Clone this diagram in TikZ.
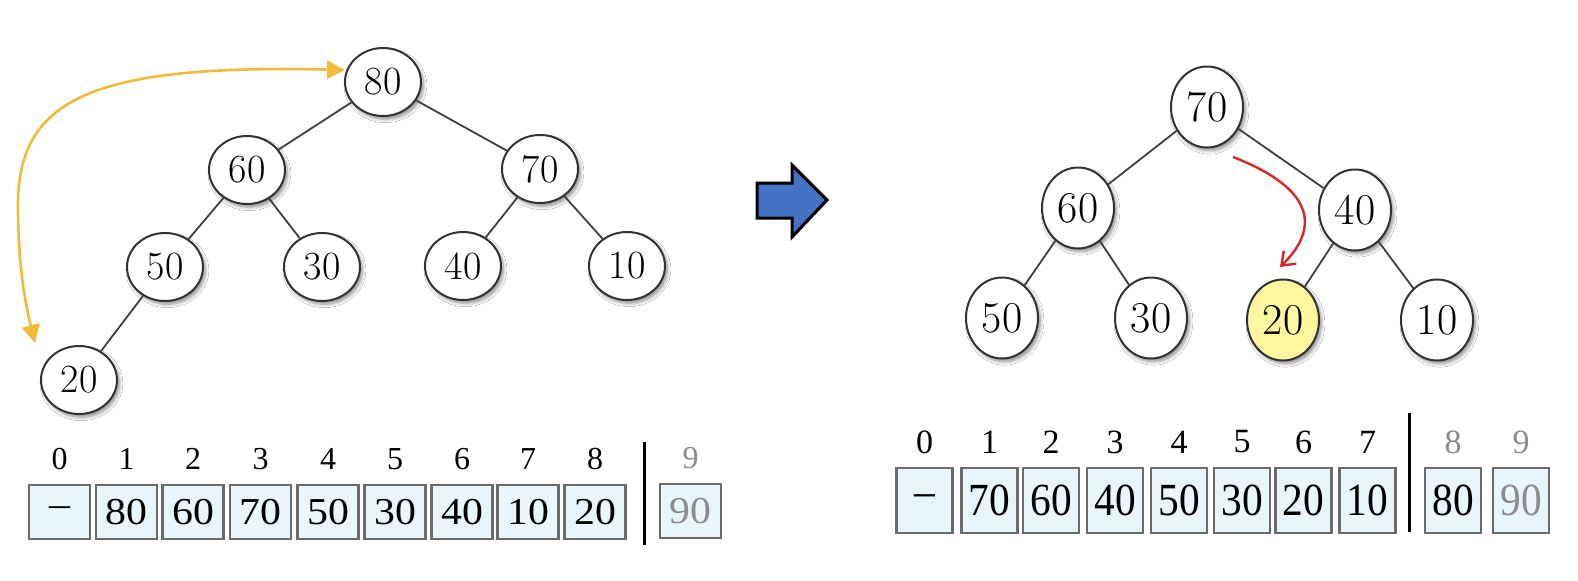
\documentclass[tikz,border=0pt]{standalone}
\usepackage{fontspec}
\newfontfamily\tms{Liberation Serif}
\newfontfamily\tmsw[FakeStretch=1.1]{Liberation Serif}
\newfontfamily\tmsn[FakeStretch=0.9]{Liberation Serif}
\usetikzlibrary{shapes.geometric,arrows.meta,shadows.blur}
\definecolor{boxfill}{RGB}{232,246,251}
\definecolor{arrowblue}{RGB}{68,114,196}
\definecolor{yarr}{RGB}{240,187,56}
\definecolor{rarr}{RGB}{214,38,38}
\definecolor{hlyellow}{RGB}{255,246,160}
\begin{document}
\begin{tikzpicture}[x=0.5pt,y=-0.5pt,
  tnode/.style={ellipse, draw=black!80, line width=1pt, fill=white, inner sep=0pt,
    blur shadow={shadow xshift=1.2pt,shadow yshift=-1.6pt,shadow blur steps=6,shadow opacity=45}},
  lnode/.style={tnode, minimum width=38pt, minimum height=34pt, font=\fontsize{20}{20}\selectfont},
  rnode/.style={tnode, minimum width=36pt, minimum height=40.5pt, font=\fontsize{22}{22}\selectfont},
  edge/.style={draw=black!75, line width=0.9pt},
  abox/.style={rectangle, draw=black!58, line width=1.3pt, fill=boxfill, inner sep=0pt},
  lbox/.style={abox, minimum width=30.5pt, minimum height=27pt, font=\tmsw\fontsize{19}{19}\selectfont},
  rbox/.style={abox, minimum width=28pt, minimum height=32.5pt, font=\tmsn\fontsize{23}{23}\selectfont},
  lidx/.style={inner sep=0pt, font=\tms\fontsize{16}{16}\selectfont},
  ridx/.style={inner sep=0pt, font=\tms\fontsize{17}{17}\selectfont},
  faded/.style={text=black!45},
  sepline/.style={draw=black, line width=1.5pt}
]
\useasboundingbox (0,0) rectangle (1578,580);
\fill[white] (0,0) rectangle (1578,580);

% ---------- left tree ----------
\node[lnode] (L80) at (383,82) {80};
\node[lnode] (L60) at (247,170) {60};
\node[lnode] (L70) at (540,169) {70};
\node[lnode] (L50) at (165,267) {50};
\node[lnode] (L30) at (322,267) {30};
\node[lnode] (L40) at (463,266) {40};
\node[lnode] (L10) at (627,266) {10};
\node[lnode] (L20) at (79,380) {20};
\draw[edge] (L80) -- (L60);
\draw[edge] (L80) -- (L70);
\draw[edge] (L60) -- (L50);
\draw[edge] (L60) -- (L30);
\draw[edge] (L50) -- (L20);
\draw[edge] (L70) -- (L40);
\draw[edge] (L70) -- (L10);

% yellow swap arrow
\coordinate (ya) at (35,343);
\coordinate (ym) at (18,205);
\coordinate (yb) at (345,70);
\draw[yarr, line width=1.3pt, {Triangle[length=9pt,width=9pt]}-{Triangle[length=9pt,width=9pt]}]
  (ya) .. controls (22,290) and (18,250) .. (ym) .. controls (18,100) and (90,64) .. (yb);

% ---------- left array ----------
\foreach \i/\x/\v in {0/59.5/\textendash,1/126.5/80,2/193/60,3/260.5/70,4/328/50,5/395/30,6/462/40,7/528/10,8/595/20}{
  \node[lbox] (la\i) at (\x,512) {\v};
  \node[lidx] (li\i) at (\x,459) {\i};
}
\node[lbox, faded] (la9) at (690.5,511) {90};
\node[lidx, faded] (li9) at (690.5,458) {9};
\coordinate (ls1) at (644,442);
\coordinate (ls2) at (644,545);
\draw[sepline] (ls1) -- (ls2);

% ---------- big arrow ----------
\draw[fill=arrowblue, draw=black, line width=1.5pt, line join=miter]
  (757,183) -- (792,183) -- (792,165) -- (827,200) -- (792,237) -- (792,218) -- (757,218) -- cycle;

% ---------- right tree ----------
\node[rnode] (R70) at (1207,107) {70};
\node[rnode] (R60) at (1078,208) {60};
\node[rnode] (R40) at (1355,210) {40};
\node[rnode] (R50) at (1002,318) {50};
\node[rnode] (R30) at (1151,318) {30};
\node[rnode, fill=hlyellow] (R20) at (1283,320) {20};
\node[rnode] (R10) at (1437,320) {10};
\draw[edge] (R70) -- (R60);
\draw[edge] (R70) -- (R40);
\draw[edge] (R60) -- (R50);
\draw[edge] (R60) -- (R30);
\draw[edge] (R40) -- (R20);
\draw[edge] (R40) -- (R10);

% red arrow
\coordinate (ra) at (1233,157);
\coordinate (rb) at (1280,267);
\draw[rarr, line width=1.2pt, -{Straight Barb[length=6pt,width=9pt]}]
  (ra) .. controls (1318,190) and (1318,230) .. (rb);

% ---------- right array ----------
\foreach \i/\x/\v in {0/924.5/\textendash,1/989.5/70,2/1051/60,3/1115/40,4/1179/50,5/1242/30,6/1303.5/20,7/1367.5/10,8/1453/80}{
  \node[rbox] (ra\i) at (\x,500.5) {\v};
}
\foreach \i/\x in {0/924.5,1/989.5,2/1051,3/1115,4/1179,5/1242,6/1303.5,7/1367.5}{
  \node[ridx] (ri\i) at (\x,442) {\i};
}
\node[ridx, faded] (ri8) at (1453,442) {8};
\node[rbox, faded] (ra9) at (1521,500.5) {90};
\node[ridx, faded] (ri9) at (1521,442) {9};
\coordinate (rs1) at (1409,413);
\coordinate (rs2) at (1409,532);
\draw[sepline] (rs1) -- (rs2);
\end{tikzpicture}
\end{document}
